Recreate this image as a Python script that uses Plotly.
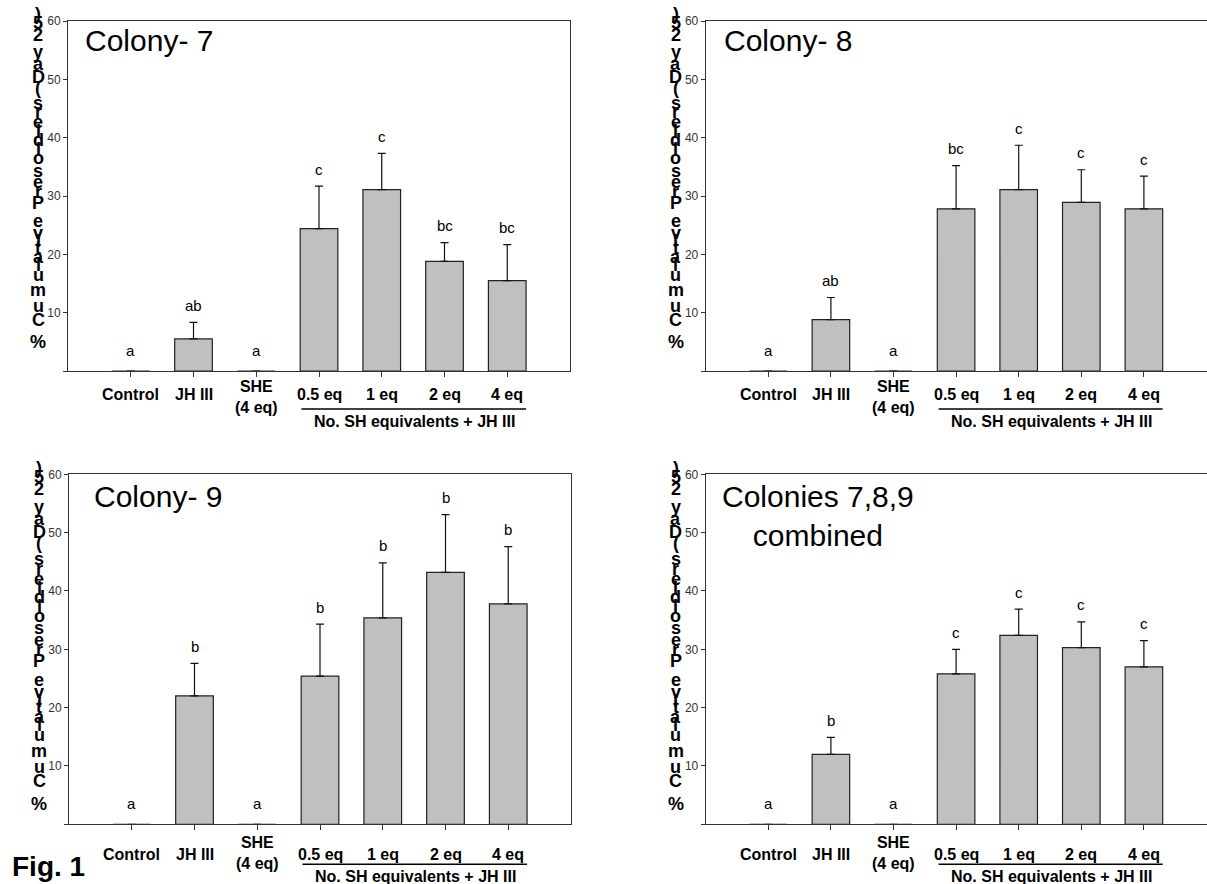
import plotly.graph_objects as go

W, H = 1207, 884

# ---------------- data ----------------
categories = ["Control", "JH III", "SHE", "0.5 eq", "1 eq", "2 eq", "4 eq"]
tick_labels = ["Control", "JH III", "SHE<br>(4 eq)", "0.5 eq", "1 eq", "2 eq", "4 eq"]
group_label = "No. SH equivalents + JH III"
y_label = "% Cumulative Presoldiers (Day 25)"
y_tick_vals = [0, 10, 20, 30, 40, 50, 60]
y_tick_text = ["", "10", "20", "30", "40", "50", "60"]
panel_titles = ["Colony- 7", "Colony- 8", "Colony- 9", "Colonies 7,8,9<br>combined"]

colony7_mean = [0, 5.5, 0, 24.4, 31.1, 18.8, 15.5]
colony7_se = [0, 2.85, 0, 7.3, 6.2, 3.2, 6.15]
colony7_letters = ["a", "ab", "a", "c", "c", "bc", "bc"]

colony8_mean = [0, 8.8, 0, 27.8, 31.1, 28.9, 27.8]
colony8_se = [0, 3.8, 0, 7.4, 7.6, 5.6, 5.6]
colony8_letters = ["a", "ab", "a", "bc", "c", "c", "c"]

colony9_mean = [0, 22.0, 0, 25.4, 35.4, 43.2, 37.8]
colony9_se = [0, 5.6, 0, 8.9, 9.4, 9.9, 9.8]
colony9_letters = ["a", "b", "a", "b", "b", "b", "b"]

combined_mean = [0, 12.0, 0, 25.8, 32.4, 30.3, 27.0]
combined_se = [0, 2.9, 0, 4.2, 4.5, 4.4, 4.5]
combined_letters = ["a", "b", "a", "c", "c", "c", "c"]

fig_label = "Fig. 1"

# ---------------- layout helpers ----------------
FONT = "Liberation Sans, Arial, sans-serif"


def px(x):
    return x / W


def py(y):
    return 1 - y / H


# panel geometry in pixels: (left, right, top, bottom)
panels = [
    dict(l=68, r=570, t=21, b=371, mean=colony7_mean, se=colony7_se, let=colony7_letters,
         title=panel_titles[0], tx=83, ty=40.5, tcenter=False, row=0),
    dict(l=705.7, r=1206.5, t=21, b=371, mean=colony8_mean, se=colony8_se, let=colony8_letters,
         title=panel_titles[1], tx=722, ty=40.5, tcenter=False, row=0),
    dict(l=69, r=571, t=474.3, b=824.3, mean=colony9_mean, se=colony9_se, let=colony9_letters,
         title=panel_titles[2], tx=92, ty=496, tcenter=False, row=1),
    dict(l=705.7, r=1206.5, t=474.3, b=824.3, mean=combined_mean, se=combined_se, let=combined_letters,
         title=panel_titles[3], tx=818, ty=516, tcenter=True, row=1),
]

# label offsets below axis per row: single-line, SHE two-line, underline, group label
row_offsets = [
    dict(single=24, she=26.2, uline=38, group=50, ylab_top=-7, ylab_bot=-29),
    dict(single=30.5, she=28.5, uline=40, group=52.5, ylab_top=-6.3, ylab_bot=-20.5),
]

ADV = {'%': .889, ' ': .278, 'C': .722, 'u': .611, 'm': .889, 'l': .278, 'a': .556, 't': .333,
       'i': .278, 'v': .556, 'e': .556, 'P': .667, 'r': .389, 's': .556, 'o': .611, 'd': .611,
       '(': .333, 'D': .722, 'y': .556, '2': .556, '5': .556, ')': .333}

fig = go.Figure()
annotations = []
shapes = []
xs = list(range(len(categories)))

for k, p in enumerate(panels):
    n = k + 1
    xa = "x" if n == 1 else f"x{n}"
    ya = "y" if n == 1 else f"y{n}"
    fig.add_trace(go.Bar(
        x=xs, y=p["mean"], width=0.6,
        marker=dict(color="#C0C0C0", line=dict(color="#222222", width=1.2)),
        error_y=dict(type="data", symmetric=False, array=p["se"],
                     arrayminus=[0] * len(xs), color="#111111", thickness=1.2, width=4),
        xaxis=xa, yaxis=ya, showlegend=False, hoverinfo="skip",
    ))
    xkey = "xaxis" if n == 1 else f"xaxis{n}"
    ykey = "yaxis" if n == 1 else f"yaxis{n}"
    fig.layout[xkey] = dict(
        domain=[px(p["l"]), px(p["r"])], range=[-1, 7], anchor=ya, automargin=False,
        showline=True, linecolor="#333333", linewidth=1, mirror=True,
        ticks="outside", ticklen=5, tickcolor="#333333", tickvals=xs,
        showticklabels=False, showgrid=False, zeroline=False, fixedrange=True,
    )
    fig.layout[ykey] = dict(
        domain=[py(p["b"]), py(p["t"])], range=[0, 60], anchor=xa, automargin=False,
        showline=True, linecolor="#333333", linewidth=1, mirror=True,
        ticks="outside", ticklen=4, tickcolor="#333333",
        tickvals=y_tick_vals, ticktext=y_tick_text,
        tickfont=dict(family=FONT, size=12, color="#333333"),
        showgrid=False, zeroline=False, fixedrange=True,
    )
    off = row_offsets[p["row"]]

    # significance letters
    for i, (m, s, L) in enumerate(zip(p["mean"], p["se"], p["let"])):
        annotations.append(dict(
            x=i, y=m + s, xref=xa, yref=ya, text=L, showarrow=False,
            yanchor="middle", yshift=17 if s > 0 else 21,
            font=dict(family=FONT, size=15, color="black"),
        ))

    # category labels
    for i, lab in enumerate(tick_labels):
        two = "<br>" in lab
        annotations.append(dict(
            x=i, xref=xa, yref="paper",
            y=py(p["b"] + (off["she"] if two else off["single"])),
            text=f"<b>{lab}</b>", showarrow=False, yanchor="middle", xanchor="center",
            font=dict(family=FONT, size=16, color="black"),
        ))
    shapes.append(dict(type="line", xref=xa, yref="paper", x0=2.72, x1=6.3,
                       y0=py(p["b"] + off["uline"]), y1=py(p["b"] + off["uline"]),
                       line=dict(color="black", width=1.5)))
    annotations.append(dict(
        x=4.52, xref=xa, yref="paper", y=py(p["b"] + off["group"]),
        text=f"<b>{group_label}</b>", showarrow=False, yanchor="middle",
        font=dict(family=FONT, size=16, color="black"),
    ))

    # panel title
    annotations.append(dict(
        x=px(p["tx"]), y=py(p["ty"]), xref="paper", yref="paper", text=p["title"],
        showarrow=False, xanchor="center" if p["tcenter"] else "left", yanchor="middle",
        align="center", font=dict(family=FONT, size=30, color="black"),
    ))

    # stacked y-axis label (upright glyphs along a vertical baseline)
    centers = []
    acc = 0.0
    for ch in y_label:
        w = ADV.get(ch, 0.556)
        centers.append(acc + w / 2)
        acc += w
    top_px = p["t"] + off["ylab_top"]
    bot_px = p["b"] + off["ylab_bot"]
    c0, c1 = centers[0], centers[-1]
    xcol = p["l"] - 30
    for ch, c in zip(y_label, centers):
        if ch == " ":
            continue
        ypix = bot_px + (c - c0) / (c1 - c0) * (top_px - bot_px)
        annotations.append(dict(
            x=px(xcol), y=py(ypix), xref="paper", yref="paper", text=f"<b>{ch}</b>",
            showarrow=False, xanchor="center", yanchor="middle",
            font=dict(family=FONT, size=18, color="black"),
        ))

annotations.append(dict(
    x=px(10), y=py(866), xref="paper", yref="paper", text=f"<b>{fig_label}</b>",
    showarrow=False, xanchor="left", yanchor="middle",
    font=dict(family=FONT, size=28, color="black"),
))

fig.update_layout(
    width=W, height=H, margin=dict(l=0, r=0, t=0, b=0, pad=0, autoexpand=False),
    paper_bgcolor="white", plot_bgcolor="white",
    annotations=annotations, shapes=shapes, bargap=0.4,
    font=dict(family=FONT),
)

fig.write_html(
    "out.html",
    config={"displayModeBar": False},
    post_script="document.body.style.margin='0';document.body.style.overflow='hidden';",
)
